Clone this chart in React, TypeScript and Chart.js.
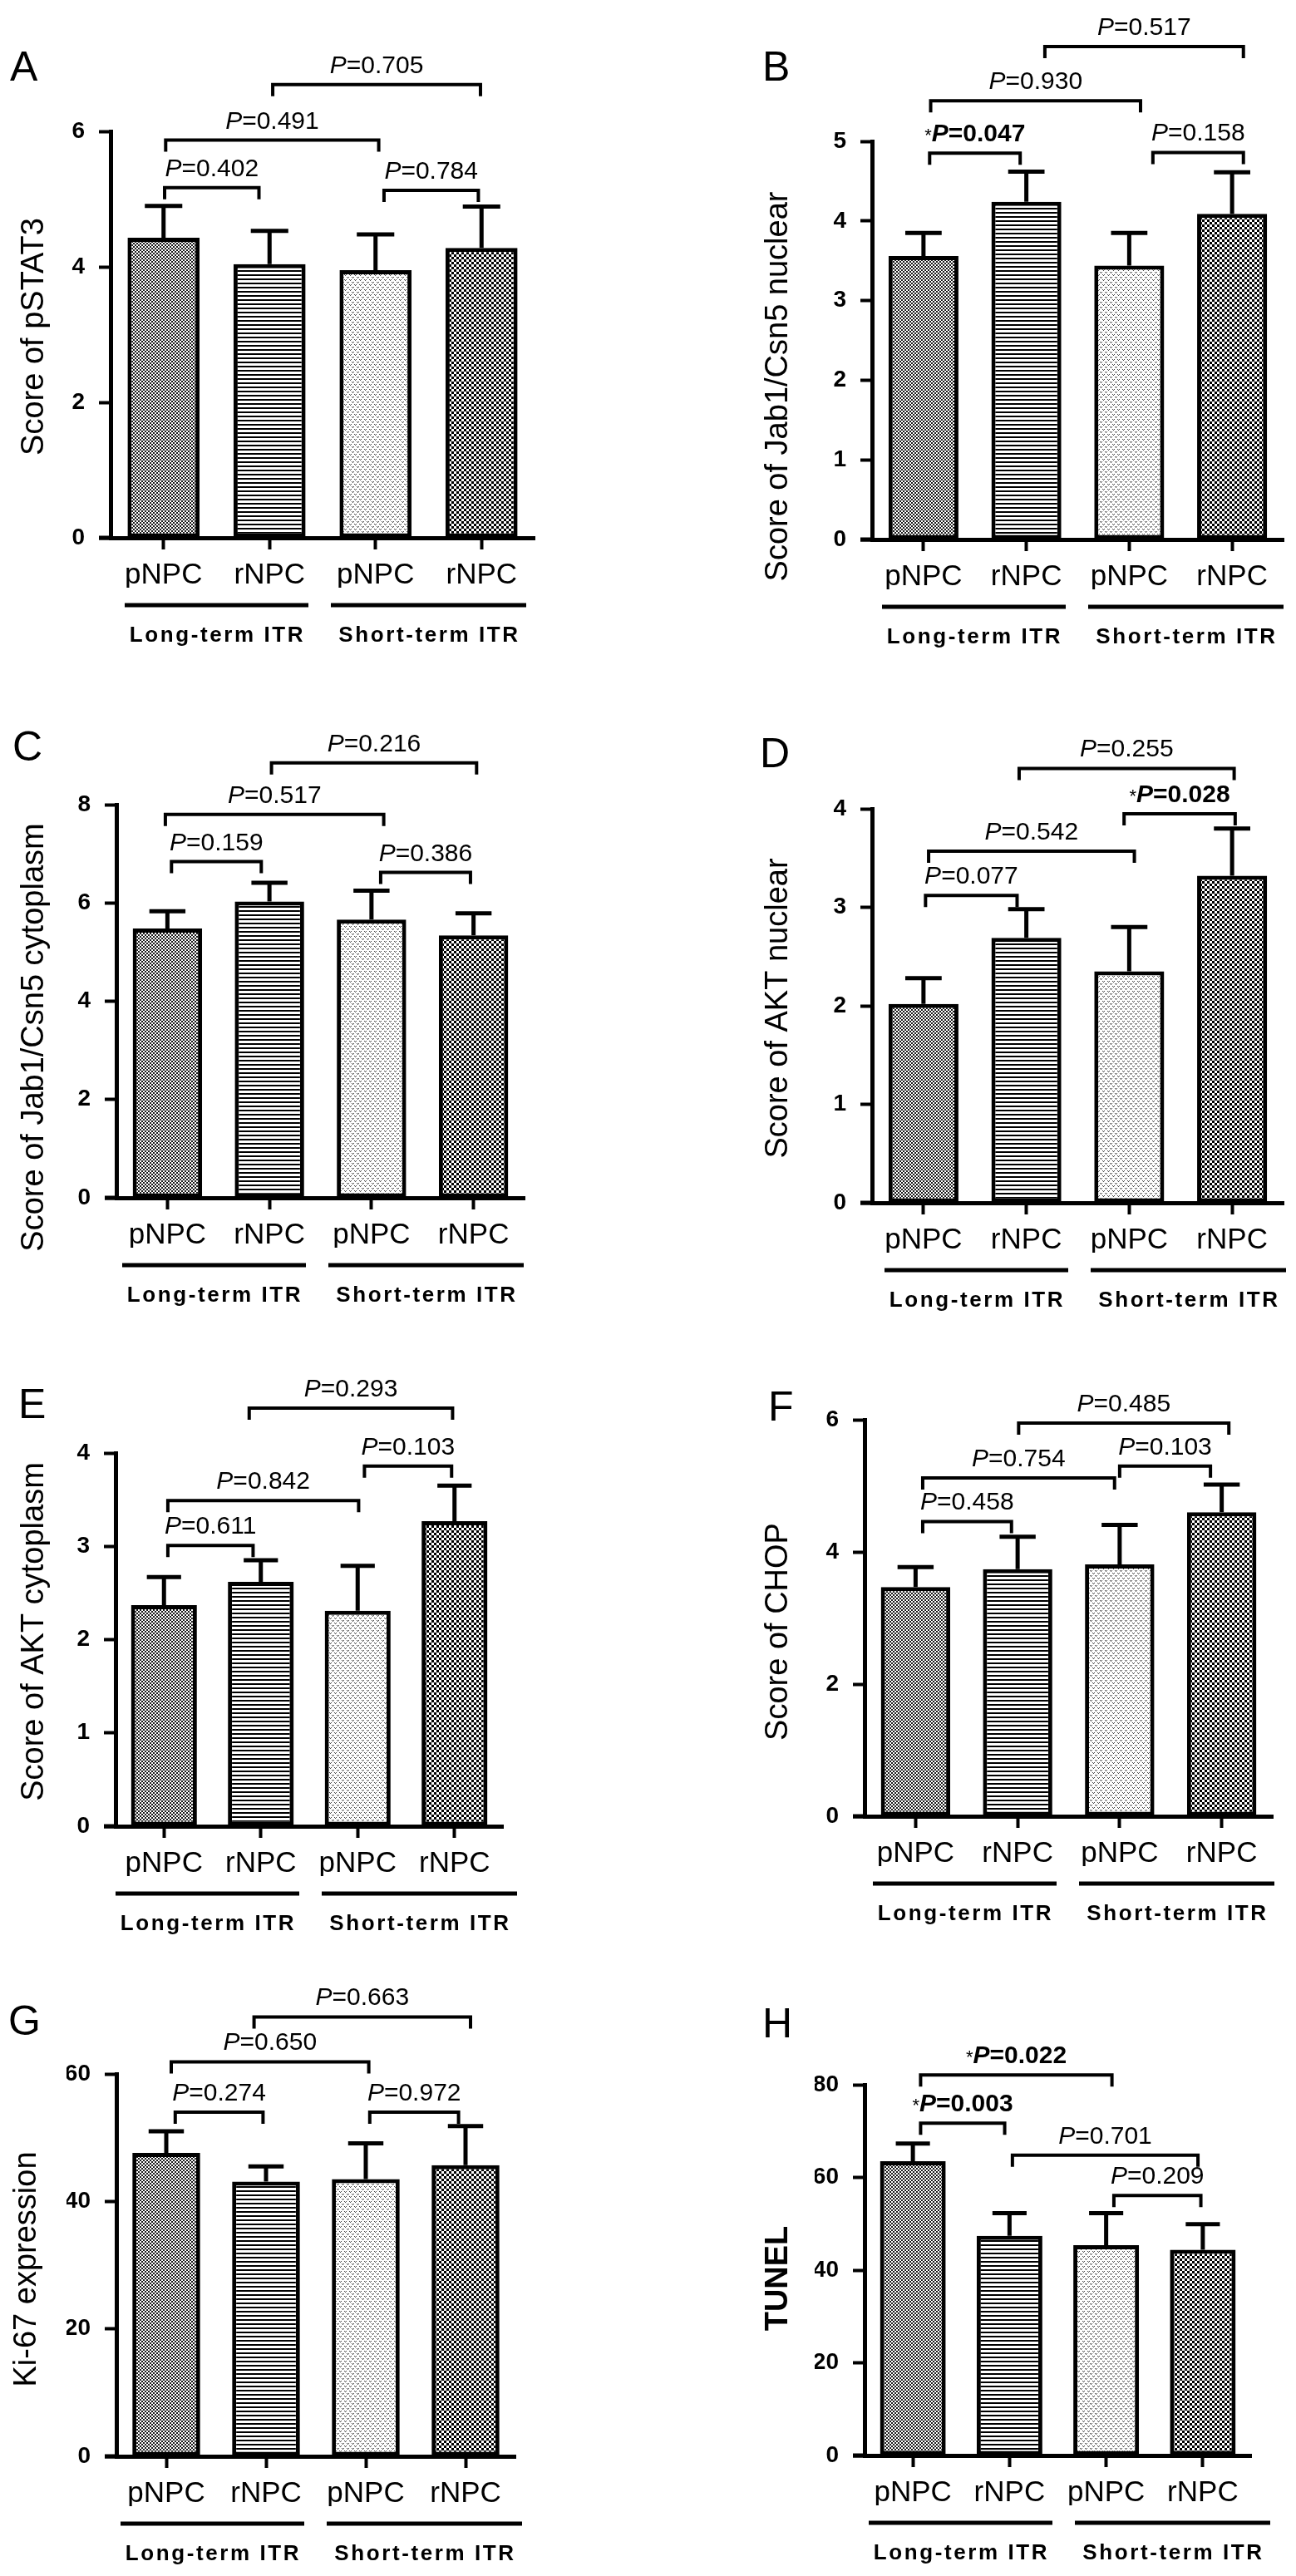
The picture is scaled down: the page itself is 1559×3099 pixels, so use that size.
import { useEffect, useRef } from "react";
import { Chart, registerables } from "chart.js";

Chart.register(...registerables);

const FONT = '"Liberation Sans", Arial, Helvetica, sans-serif';

const CATEGORIES = ["pNPC", "rNPC", "pNPC", "rNPC"];
const GROUPS = ["Long-term ITR", "Short-term ITR"];

// mean / SEM per panel
const PSTAT3_MEAN = [4.43, 4.04, 3.95, 4.28];
const PSTAT3_SEM = [0.47, 0.49, 0.53, 0.61];
const JAB_NUC_MEAN = [3.56, 4.24, 3.44, 4.09];
const JAB_NUC_SEM = [0.29, 0.38, 0.41, 0.52];
const JAB_CYT_MEAN = [5.48, 6.03, 5.66, 5.34];
const JAB_CYT_SEM = [0.35, 0.38, 0.59, 0.45];
const AKT_NUC_MEAN = [2.02, 2.69, 2.35, 3.32];
const AKT_NUC_SEM = [0.26, 0.29, 0.45, 0.48];
const AKT_CYT_MEAN = [2.37, 2.62, 2.31, 3.27];
const AKT_CYT_SEM = [0.3, 0.23, 0.48, 0.38];
const CHOP_MEAN = [3.47, 3.74, 3.81, 4.6];
const CHOP_SEM = [0.3, 0.49, 0.6, 0.42];
const KI67_MEAN = [47.6, 43.1, 43.5, 45.7];
const KI67_SEM = [3.4, 2.4, 5.6, 6.1];
const TUNEL_MEAN = [63.5, 47.4, 45.4, 44.4];
const TUNEL_SEM = [3.8, 4.9, 6.9, 5.5];

// comparison brackets: [from bar, to bar, height in axis units, P value, significant]
type Bracket = [number, number, number, string, boolean?];
const PSTAT3_P: Bracket[] = [
  [0.01, 0.9, 5.17, "0.402"],
  [2.08, 2.97, 5.13, "0.784"],
  [0.02, 2.03, 5.87, "0.491"],
  [1.03, 2.99, 6.69, "0.705"],
];
const JAB_NUC_P: Bracket[] = [
  [0.06, 0.94, 4.85, "0.047", true],
  [2.23, 3.11, 4.86, "0.158"],
  [0.07, 2.11, 5.51, "0.930"],
  [1.18, 3.11, 6.19, "0.517"],
];
const JAB_CYT_P: Bracket[] = [
  [0.04, 0.92, 6.84, "0.159"],
  [2.09, 2.97, 6.62, "0.386"],
  [-0.02, 2.12, 7.8, "0.517"],
  [1.02, 3.03, 8.85, "0.216"],
];
const AKT_NUC_P: Bracket[] = [
  [0.02, 0.91, 3.12, "0.077"],
  [0.05, 2.05, 3.57, "0.542"],
  [1.95, 3.03, 3.95, "0.028", true],
  [0.93, 3.02, 4.41, "0.255"],
];
const AKT_CYT_P: Bracket[] = [
  [0.04, 0.92, 3.01, "0.611"],
  [0.04, 2.01, 3.49, "0.842"],
  [2.07, 2.97, 3.86, "0.103"],
  [0.88, 2.98, 4.48, "0.293"],
];
const CHOP_P: Bracket[] = [
  [0.07, 0.94, 4.46, "0.458"],
  [0.07, 1.95, 5.12, "0.754"],
  [2.0, 2.89, 5.3, "0.103"],
  [1.01, 3.07, 5.95, "0.485"],
];
const KI67_P: Bracket[] = [
  [0.09, 0.97, 54.0, "0.274"],
  [2.04, 2.93, 54.0, "0.972"],
  [0.05, 2.03, 61.9, "0.650"],
  [0.88, 3.05, 68.95, "0.663"],
];
const TUNEL_P: Bracket[] = [
  [0.08, 0.95, 71.7, "0.003", true],
  [0.08, 2.06, 82.1, "0.022", true],
  [1.03, 2.95, 64.8, "0.701"],
  [2.08, 2.98, 56.1, "0.209"],
];

interface PanelSpec {
  letter: string;
  title: string;
  titleBold?: boolean;
  mean: number[];
  sem: number[];
  brackets: Bracket[];
  yMax: number;
  yStep: number;
  cell: [number, number, number, number]; // left, top, width, height (page px)
  axis: [number, number, number, number]; // y-axis x, top, right, bottom (page px)
  titleAt: [number, number];
  letterAt: [number, number];
  groupX: number;
}

const PANELS: PanelSpec[] = [
  { letter: "A", title: "Score of pSTAT3", mean: PSTAT3_MEAN, sem: PSTAT3_SEM, brackets: PSTAT3_P, yMax: 6, yStep: 2,
    cell: [0, 0, 780, 790], axis: [133, 158, 643, 647], titleAt: [42, 405], letterAt: [12, 97], groupX: 17 },
  { letter: "B", title: "Score of Jab1/Csn5 nuclear", mean: JAB_NUC_MEAN, sem: JAB_NUC_SEM, brackets: JAB_NUC_P, yMax: 5, yStep: 1,
    cell: [780, 0, 779, 790], axis: [1049, 170, 1544, 649], titleAt: [937, 465], letterAt: [917, 97], groupX: 12 },
  { letter: "C", title: "Score of Jab1/Csn5 cytoplasm", mean: JAB_CYT_MEAN, sem: JAB_CYT_SEM, brackets: JAB_CYT_P, yMax: 8, yStep: 2,
    cell: [0, 790, 780, 790], axis: [140, 968, 631, 1441], titleAt: [42, 1248], letterAt: [15, 915], groupX: 7 },
  { letter: "D", title: "Score of AKT nuclear", mean: AKT_NUC_MEAN, sem: AKT_NUC_SEM, brackets: AKT_NUC_P, yMax: 4, yStep: 1,
    cell: [780, 790, 779, 790], axis: [1049, 973, 1544, 1447], titleAt: [937, 1213], letterAt: [914, 923], groupX: 15 },
  { letter: "E", title: "Score of AKT cytoplasm", mean: AKT_CYT_MEAN, sem: AKT_CYT_SEM, brackets: AKT_CYT_P, yMax: 4, yStep: 1,
    cell: [0, 1580, 780, 750], axis: [139, 1748, 605, 2197], titleAt: [42, 1963], letterAt: [22, 1706], groupX: 0 },
  { letter: "F", title: "Score of CHOP", mean: CHOP_MEAN, sem: CHOP_SEM, brackets: CHOP_P, yMax: 6, yStep: 2,
    cell: [780, 1580, 779, 750], axis: [1040, 1708, 1531, 2185], titleAt: [937, 1963], letterAt: [924, 1709], groupX: 10 },
  { letter: "G", title: "Ki-67 expression", mean: KI67_MEAN, sem: KI67_SEM, brackets: KI67_P, yMax: 60, yStep: 20,
    cell: [0, 2330, 780, 769], axis: [140, 2495, 620, 2955], titleAt: [33, 2730], letterAt: [10, 2448], groupX: 5 },
  { letter: "H", title: "TUNEL", titleBold: true, mean: TUNEL_MEAN, sem: TUNEL_SEM, brackets: TUNEL_P, yMax: 80, yStep: 20,
    cell: [780, 2330, 779, 769], axis: [1040, 2508, 1505, 2954], titleAt: [937, 2741], letterAt: [917, 2451], groupX: 5 },
];

const Y_W = 60;
const X_H = 60;

function makePattern(w: number, h: number, draw: (c: CanvasRenderingContext2D) => void) {
  const cv = document.createElement("canvas");
  cv.width = w;
  cv.height = h;
  const c = cv.getContext("2d")!;
  c.fillStyle = "#fff";
  c.fillRect(0, 0, w, h);
  c.fillStyle = "#000";
  draw(c);
  return c.createPattern(cv, "repeat")!;
}

function barPatterns() {
  return [
    // fine checker
    makePattern(4, 4, c => { c.fillStyle = "#1a1a1a"; c.fillRect(0, 0, 2, 2); c.fillRect(2, 2, 2, 2); }),
    // horizontal lines
    makePattern(5, 5, c => { c.fillRect(0, 0, 5, 2); }),
    // light speckle
    makePattern(6, 6, c => {
      c.fillStyle = "#444";
      [[0, 0], [1, 1], [2, 0], [3, 3], [4, 4], [5, 3]].forEach(([x, y]) => c.fillRect(x, y, 1, 1));
    }),
    // coarse checker
    makePattern(6, 6, c => { c.fillRect(0, 0, 3, 3); c.fillRect(3, 3, 3, 3); }),
  ];
}

function drawP(ctx: CanvasRenderingContext2D, cx: number, baseline: number, p: string, sig: boolean) {
  const segs: [string, string][] = sig
    ? [["*", `22px ${FONT}`], ["P", `italic bold 30px ${FONT}`], ["=" + p, `bold 30px ${FONT}`]]
    : [["P", `italic 30px ${FONT}`], ["=" + p, `30px ${FONT}`]];
  let total = 0;
  const widths = segs.map(([t, f]) => { ctx.font = f; const w = ctx.measureText(t).width; total += w; return w; });
  let x = cx - total / 2;
  ctx.textAlign = "left";
  ctx.textBaseline = "alphabetic";
  segs.forEach(([t, f], i) => { ctx.font = f; ctx.fillText(t, x, baseline); x += widths[i]; });
}

function figurePlugin(p: PanelSpec) {
  const [cl, ct] = p.cell;
  return {
    id: "figure",
    afterDatasetsDraw(chart: any) {
      const ctx: CanvasRenderingContext2D = chart.ctx;
      const ys = chart.scales.y;
      ctx.save();
      ctx.strokeStyle = "#000";
      ctx.lineWidth = 5;
      chart.getDatasetMeta(0).data.forEach((el: any, i: number) => {
        const top = ys.getPixelForValue(p.mean[i] + p.sem[i]);
        const half = el.width * 0.26;
        ctx.beginPath();
        ctx.moveTo(el.x, el.y);
        ctx.lineTo(el.x, top);
        ctx.moveTo(el.x - half, top);
        ctx.lineTo(el.x + half, top);
        ctx.stroke();
      });
      ctx.restore();
    },
    afterDraw(chart: any) {
      const ctx: CanvasRenderingContext2D = chart.ctx;
      const xs = chart.scales.x;
      const ys = chart.scales.y;
      const { left, bottom } = chart.chartArea;
      ctx.save();
      ctx.fillStyle = "#000";
      ctx.strokeStyle = "#000";

      // x axis runs a tick-length past the y axis
      ctx.lineWidth = 5;
      ctx.beginPath();
      ctx.moveTo(left - 14, bottom);
      ctx.lineTo(left, bottom);
      ctx.stroke();

      // significance brackets
      ctx.lineWidth = 4;
      for (const [a, b, v, pv, sig] of p.brackets) {
        const x1 = xs.getPixelForValue(a);
        const x2 = xs.getPixelForValue(b);
        const yy = ys.getPixelForValue(v);
        ctx.beginPath();
        ctx.moveTo(x1, yy + 14);
        ctx.lineTo(x1, yy);
        ctx.lineTo(x2, yy);
        ctx.lineTo(x2, yy + 14);
        ctx.stroke();
        drawP(ctx, (x1 + x2) / 2, yy - 14, pv, !!sig);
      }

      // group underlines and labels
      GROUPS.forEach((g, i) => {
        const x0 = left + p.groupX + (i === 0 ? 0 : 248);
        const w = i === 0 ? 221 : 235;
        ctx.lineWidth = 5;
        ctx.beginPath();
        ctx.moveTo(x0, bottom + 81);
        ctx.lineTo(x0 + w, bottom + 81);
        ctx.stroke();
        ctx.font = `bold 26px ${FONT}`;
        (ctx as any).letterSpacing = "2.6px";
        ctx.textAlign = "center";
        ctx.textBaseline = "alphabetic";
        ctx.fillText(g, x0 + w / 2 + 1, bottom + 125);
        (ctx as any).letterSpacing = "0px";
      });

      // y-axis title
      ctx.save();
      ctx.translate(p.titleAt[0] - cl, p.titleAt[1] - ct);
      ctx.rotate(-Math.PI / 2);
      ctx.font = `${p.titleBold ? "bold " : ""}38px ${FONT}`;
      ctx.textAlign = "center";
      ctx.textBaseline = "middle";
      ctx.fillText(p.title, 0, 0);
      ctx.restore();

      // panel letter
      ctx.font = `50px ${FONT}`;
      ctx.textAlign = "left";
      ctx.textBaseline = "alphabetic";
      ctx.fillText(p.letter, p.letterAt[0] - cl, p.letterAt[1] - ct);
      ctx.restore();
    },
  };
}

function Panel({ spec }: { spec: PanelSpec }) {
  const canvasRef = useRef<HTMLCanvasElement>(null);
  const [cl, ct, cw, ch] = spec.cell;

  useEffect(() => {
    if (!canvasRef.current) return;
    const [ax, at, ar, ab] = spec.axis;
    const chart = new Chart(canvasRef.current, {
      type: "bar",
      data: {
        labels: CATEGORIES,
        datasets: [{
          data: spec.mean,
          backgroundColor: barPatterns(),
          borderColor: "#000",
          borderWidth: 5,
          borderSkipped: false,
          barPercentage: 0.68,
          categoryPercentage: 1,
        }],
      },
      options: {
        responsive: false,
        animation: false,
        events: [],
        layout: {
          padding: { left: ax - cl - Y_W, right: cl + cw - ar, top: at - ct, bottom: ct + ch - ab - X_H },
        },
        plugins: { legend: { display: false }, tooltip: { enabled: false } },
        scales: {
          x: {
            offset: true,
            grid: { offset: false, drawOnChartArea: false, tickLength: 14, tickWidth: 4, tickColor: "#000" },
            border: { display: true, width: 5, color: "#000" },
            ticks: { color: "#000", font: { family: FONT, size: 35 }, padding: 10, maxRotation: 0, autoSkip: false },
            afterFit: (s: any) => { s.height = X_H; },
          },
          y: {
            min: 0,
            max: spec.yMax,
            grid: { drawOnChartArea: false, tickLength: 14, tickWidth: 4, tickColor: "#000" },
            border: { display: true, width: 5, color: "#000" },
            ticks: { stepSize: spec.yStep, color: "#000", font: { family: FONT, size: 28, weight: "bold" }, padding: 17 },
            afterFit: (s: any) => { s.width = Y_W; },
          },
        },
      },
      plugins: [figurePlugin(spec)],
    });
    return () => { chart.destroy(); };
  }, [spec]);

  return (
    <canvas
      ref={canvasRef}
      width={cw}
      height={ch}
      style={{ position: "absolute", left: cl, top: ct, width: cw, height: ch }}
    />
  );
}

export default function App() {
  return (
    <div style={{ position: "absolute", left: 0, top: 0, width: 1559, height: 3099, background: "#fff" }}>
      {PANELS.map(p => <Panel key={p.letter} spec={p} />)}
    </div>
  );
}
